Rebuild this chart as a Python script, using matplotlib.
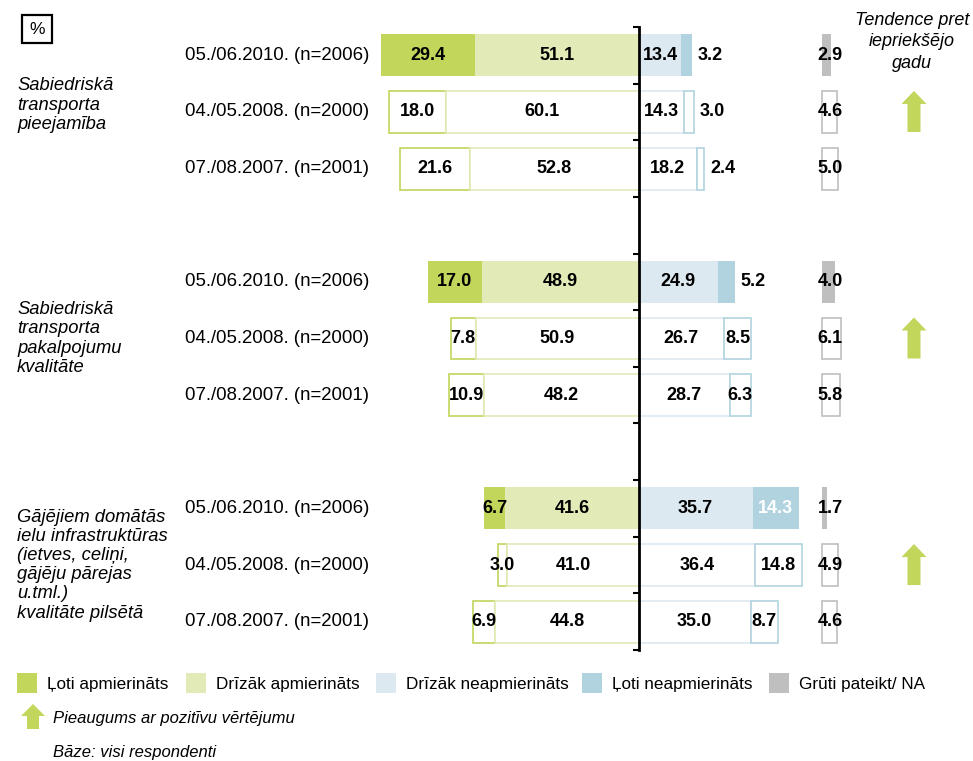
import matplotlib
matplotlib.use("Agg")
import matplotlib.pyplot as plt
import numpy as np
from matplotlib.patches import FancyArrow, Rectangle
from matplotlib.transforms import IdentityTransform

plt.rcParams['font.family'] = ['Liberation Sans', 'DejaVu Sans']

# ---------------- data ----------------
groups = ["Sabiedriskā\ntransporta\npieejamība",
          "Sabiedriskā\ntransporta\npakalpojumu\nkvalitāte",
          "Gājējiem domātās\nielu infrastruktūras\n(ietves, celiņi,\ngājēju pārejas\nu.tml.)\nkvalitāte pilsētā"]
waves = ["05./06.2010. (n=2006)", "04./05.2008. (n=2000)", "07./08.2007. (n=2001)"]
very_sat = [29.4, 18.0, 21.6, 17.0, 7.8, 10.9, 6.7, 3.0, 6.9]
rather_sat = [51.1, 60.1, 52.8, 48.9, 50.9, 48.2, 41.6, 41.0, 44.8]
rather_unsat = [13.4, 14.3, 18.2, 24.9, 26.7, 28.7, 35.7, 36.4, 35.0]
very_unsat = [3.2, 3.0, 2.4, 5.2, 8.5, 6.3, 14.3, 14.8, 8.7]
hard_to_say = [2.9, 4.6, 5.0, 4.0, 6.1, 5.8, 1.7, 4.9, 4.6]
trend_up = [True, True, True]
legend_labels = ["Ļoti apmierināts", "Drīzāk apmierināts", "Drīzāk neapmierināts",
                 "Ļoti neapmierināts", "Grūti pateikt/ NA"]

# ---------------- style ----------------
C_VS = "#c1d65b"
C_RS = "#e2eab8"
C_RU = "#dde9f0"
C_VU = "#b1d3df"
C_NA = "#bfbfbf"
FS = 13
W, H = 973, 761

fig = plt.figure(figsize=(W / 100, H / 100), dpi=100)
ax = fig.add_axes([0, (H - 650) / H, 1, (650 - 27) / H])
scale = 3.2
cx = 638.5
ax.set_xlim(-cx / scale, (W - cx) / scale)
ax.set_ylim(10.5, -0.5)

rows = [0, 1, 2, 4, 5, 6, 8, 9, 10]
na_start = 57.3
bh = 0.74


def fx(px):
    return px / W


def fy(py):
    return 1 - py / H


for i, r in enumerate(rows):
    filled = (i % 3 == 0)
    segs = [(-very_sat[i] - rather_sat[i], very_sat[i], C_VS),
            (-rather_sat[i], rather_sat[i], C_RS),
            (0, rather_unsat[i], C_RU),
            (rather_unsat[i], very_unsat[i], C_VU),
            (na_start, hard_to_say[i], C_NA)]
    for left, w, c in segs:
        if filled:
            ax.barh(r, w, left=left, height=bh, color=c, edgecolor='none', zorder=2)
        else:
            ax.barh(r, w, left=left, height=bh, color='white', edgecolor=c,
                    linewidth=1.2, zorder=2)
    # labels
    kw = dict(ha='center', va='center', fontsize=FS, fontweight='bold', zorder=5)
    ax.text(-rather_sat[i] - very_sat[i] / 2, r, f"{very_sat[i]:.1f}", **kw)
    ax.text(-rather_sat[i] / 2, r, f"{rather_sat[i]:.1f}", **kw)
    ax.text(rather_unsat[i] / 2, r, f"{rather_unsat[i]:.1f}", **kw)
    if very_unsat[i] < 6:
        ax.text(rather_unsat[i] + very_unsat[i] + 1.9, r, f"{very_unsat[i]:.1f}",
                ha='left', va='center', fontsize=FS, fontweight='bold', zorder=5)
    else:
        col = 'white' if filled else 'black'
        ax.text(rather_unsat[i] + very_unsat[i] / 2, r, f"{very_unsat[i]:.1f}",
                ha='center', va='center', fontsize=FS, fontweight='bold', color=col, zorder=5)
    ax.text(na_start + 2.6, r, f"{hard_to_say[i]:.1f}", **kw)
    # wave label
    ax.text(-cx / scale + 369 / scale, r, waves[i % 3], ha='right', va='center', fontsize=13.4)

# group labels
for g, name in enumerate(groups):
    r = rows[g * 3 + 1]
    yoff = -0.12 if g == 0 else 0
    ax.text(-cx / scale + 17 / scale, r + yoff, name, ha='left', va='center',
            fontsize=13.2, style='italic', linespacing=1.17)

# axis spine with ticks
for s in ['top', 'right', 'bottom']:
    ax.spines[s].set_visible(False)
ax.spines['left'].set_position(('data', 0))
ax.spines['left'].set_linewidth(2)
ax.spines['left'].set_zorder(6)
ax.set_yticks(np.arange(-0.5, 11, 1))
ax.set_yticklabels([])
ax.tick_params(axis='y', direction='out', length=4, width=1.5)
ax.set_xticks([])
ax.patch.set_visible(False)

# trend header and arrows
fig.text(fx(912), fy(42), "Tendence pret\niepriekšējo\ngadu", ha='center', va='center',
         fontsize=13, style='italic', linespacing=1.32)


def up_arrow(x_px, ybot_px, length, tail, head_w, head_l):
    a = FancyArrow(x_px, H - ybot_px, 0, length, width=tail, head_width=head_w,
                   head_length=head_l, length_includes_head=True,
                   transform=IdentityTransform(), color=C_VS, linewidth=0)
    fig.add_artist(a)


for g in range(3):
    if trend_up[g]:
        r = rows[g * 3 + 1]
        _, ypix = ax.transData.transform((0, r))
        ycent = H - ypix
        up_arrow(914, ycent + 20, 41, 13, 25, 13)

# % box
fig.add_artist(Rectangle((fx(22), fy(43)), 30 / W, 28 / H, transform=fig.transFigure,
                         facecolor='white', edgecolor='black', linewidth=1.6))
fig.text(fx(37), fy(29.5), "%", ha='center', va='center', fontsize=12.5)

# legend
leg_sq = [17, 186, 376, 582, 769]
leg_cols = [C_VS, C_RS, C_RU, C_VU, C_NA]
for xs, c, lab in zip(leg_sq, leg_cols, legend_labels):
    fig.add_artist(Rectangle((fx(xs), fy(693)), 20 / W, 20 / H, transform=fig.transFigure,
                             facecolor=c, edgecolor='none'))
    fig.text(fx(xs + 30), fy(684), lab, ha='left', va='center', fontsize=12.3)

up_arrow(33, 729, 25, 12, 24, 12)
fig.text(fx(53), fy(719), "Pieaugums ar pozitīvu vērtējumu", ha='left', va='center',
         fontsize=12, style='italic')
fig.text(fx(53), fy(752), "Bāze: visi respondenti", ha='left', va='center',
         fontsize=12, style='italic')

fig.savefig("out.png", dpi=100)
